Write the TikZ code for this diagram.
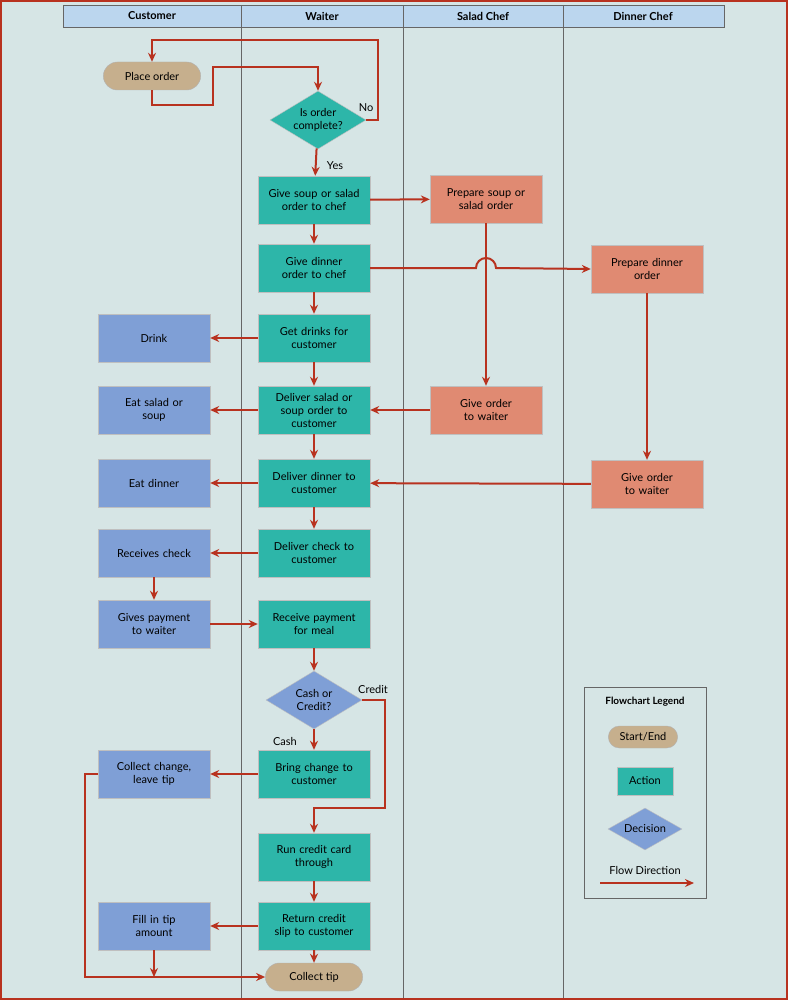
\documentclass[tikz,border=0pt]{standalone}
\usepackage{fontspec}
\setmainfont{Lato}
\usetikzlibrary{shapes.geometric,arrows.meta}
\definecolor{bg}{HTML}{D6E5E5}
\definecolor{head}{HTML}{BBD6EE}
\definecolor{flow}{HTML}{B8321F}
\definecolor{act}{HTML}{2DB6A9}
\definecolor{cust}{HTML}{7F9FD6}
\definecolor{chef}{HTML}{E08A72}
\definecolor{term}{HTML}{C6AF8D}
\tikzset{
  box/.style={rectangle, minimum width=112pt, minimum height=48pt, align=center,
    text width=104pt, inner sep=2pt, font=\fontsize{11}{13}\selectfont, draw=black!25},
  action/.style={box, fill=act},
  custbox/.style={box, fill=cust},
  chefbox/.style={box, fill=chef},
  startend/.style={rounded rectangle, fill=term, draw=black!30, minimum width=104pt,
    minimum height=28pt, font=\fontsize{11}{13}\selectfont},
  decision/.style={diamond, fill=act, draw=black!25, aspect=1.65, inner sep=1pt,
    minimum width=96pt, minimum height=58pt, align=center, font=\fontsize{11}{13}\selectfont},
  flw/.style={draw=flow, line width=2pt, -{Stealth[length=9pt,width=8pt]}},
  lbl/.style={font=\fontsize{11}{13}\selectfont},
}
\usetikzlibrary{shapes.misc}
\begin{document}
\begin{tikzpicture}[x=1pt,y=-1pt]
  % background and lanes
  \fill[bg] (0,0) rectangle (788,1000);
  \draw[flow, line width=2pt] (1,1) rectangle (787,999);
  \draw[black!60, fill=head] (63,5) rectangle (724,27);
  \foreach \lx in {241,403,563} \draw[black!60] (\lx,5) -- (\lx,998);
  \foreach \lx/\ln in {152/Customer,322/Waiter,483/Salad Chef,643/Dinner Chef}
    \node[font=\fontsize{11}{13}\selectfont\bfseries] at (\lx,16) {\ln};

  % nodes
  \node[startend] (place) at (152,76) {Place order};
  \node[decision] (complete) at (318,120) {Is order\\complete?};
  \node[action] (soup) at (314,200) {Give soup or salad\\order to chef};
  \node[chefbox] (prepsoup) at (486,199) {Prepare soup or\\salad order};
  \node[action] (dinner) at (314,268) {Give dinner\\order to chef};
  \node[chefbox] (prepdin) at (647,269) {Prepare dinner\\order};
  \node[action] (drinks) at (314,338) {Get drinks for\\customer};
  \node[custbox] (drink) at (154,338) {Drink};
  \node[action] (delsoup) at (314,410) {Deliver salad or\\soup order to\\customer};
  \node[custbox] (eatsoup) at (154,410) {Eat salad or\\soup};
  \node[chefbox] (givesoup) at (486,410) {Give order\\to waiter};
  \node[action] (deldin) at (314,483) {Deliver dinner to\\customer};
  \node[custbox] (eatdin) at (154,483) {Eat dinner};
  \node[chefbox] (givedin) at (647,484) {Give order\\to waiter};
  \node[action] (check) at (314,553) {Deliver check to\\customer};
  \node[custbox] (recv) at (154,553) {Receives check};
  \node[custbox] (pay) at (154,624) {Gives payment\\to waiter};
  \node[action] (payment) at (314,624) {Receive payment\\for meal};
  \node[decision, fill=cust] (cash) at (314,700) {Cash or\\Credit?};
  \node[action] (change) at (314,774) {Bring change to\\customer};
  \node[custbox] (collect) at (154,774) {Collect change,\\leave tip};
  \node[action] (card) at (314,857) {Run credit card\\through};
  \node[action] (slip) at (314,926) {Return credit\\slip to customer};
  \node[custbox] (fill) at (154,926) {Fill in tip\\amount};
  \node[startend] (tip) at (314,977) {Collect tip};

  % connectors
  \draw[flw] (place.south) -- (152,105) -- (213,105) -- (213,67) -- (318,67) -- (complete.north);
  \draw[flw] (complete.east) -- (378,120) -- (378,40) -- (152,40) -- (place.north);
  \node[lbl] at (366,108) {No};
  \draw[flw] (complete) -- (soup);
  \node[lbl] at (335,166) {Yes};
  \draw[flw] (soup) -- (prepsoup);
  \draw[flw] (soup) -- (dinner);
  \draw[flw] (dinner.east) -- (476,268) arc[start angle=180,end angle=0,radius=10pt] -- (prepdin.west);
  \draw[flw] (prepsoup) -- (givesoup);
  \draw[flw] (prepdin) -- (givedin);
  \draw[flw] (dinner) -- (drinks);
  \draw[flw] (drinks) -- (drink);
  \draw[flw] (drinks) -- (delsoup);
  \draw[flw] (delsoup) -- (eatsoup);
  \draw[flw] (givesoup) -- (delsoup);
  \draw[flw] (delsoup) -- (deldin);
  \draw[flw] (deldin) -- (eatdin);
  \draw[flw] (givedin) -- (deldin);
  \draw[flw] (deldin) -- (check);
  \draw[flw] (check) -- (recv);
  \draw[flw] (recv) -- (pay);
  \draw[flw] (pay) -- (payment);
  \draw[flw] (payment) -- (cash);
  \draw[flw] (cash) -- (change);
  \node[lbl] at (285,741) {Cash};
  \draw[flw] (cash.east) -- (385,700) -- (385,808) -- (314,808) -- (card.north);
  \node[lbl] at (373,689) {Credit};
  \draw[flw] (change) -- (collect);
  \draw[flw] (card) -- (slip);
  \draw[flw] (slip) -- (fill);
  \draw[flw] (slip) -- (tip);
  \coordinate (join) at (154,977);
  \draw[flw] (collect.west) -- (85,774) -- (85,977) -- (tip.west);
  \draw[flw] (fill) -- (join);

  % legend
  \draw[black!60] (584,687) rectangle (706,898);
  \node[font=\fontsize{10}{12}\selectfont\bfseries] (legtitle) at (645,702) {Flowchart Legend};
  \node[startend, minimum width=76pt, minimum height=22pt] (legterm) at (643,737) {Start/End};
  \node[action, minimum width=56pt, minimum height=28pt, text width=50pt] (legact) at (645,781) {Action};
  \node[decision, fill=cust, minimum width=74pt, minimum height=42pt] (legdec) at (645,829) {Decision};
  \node[lbl] (legflow) at (645,870) {Flow Direction};
  \coordinate (flowa) at (600,883);
  \coordinate (flowb) at (694,883);
  \draw[flw] (flowa) -- (flowb);
\end{tikzpicture}
\end{document}
